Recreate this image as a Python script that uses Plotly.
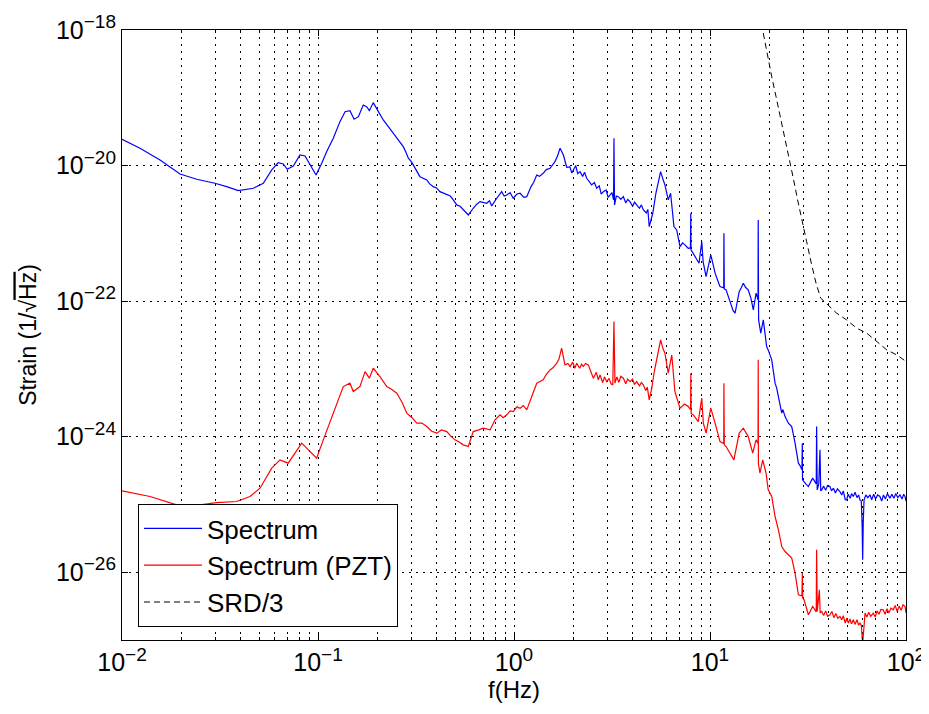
import numpy as np
import plotly.graph_objects as go

# Values, stored as (log10 f [Hz], log10 strain [1/sqrt(Hz)])
spectrum_log = [
    (-2.000, -19.612), (-1.908, -19.745), (-1.806, -19.917), (-1.704, -20.124), (-1.619, -20.202),
    (-1.526, -20.261), (-1.466, -20.311), (-1.407, -20.370), (-1.330, -20.335), (-1.279, -20.261),
    (-1.236, -20.065), (-1.203, -19.957), (-1.177, -19.976), (-1.157, -20.055), (-1.126, -20.006),
    (-1.092, -19.844), (-1.066, -19.858), (-1.032, -20.040), (-1.010, -20.139), (-0.981, -19.966),
    (-0.956, -19.795), (-0.922, -19.597), (-0.888, -19.352), (-0.862, -19.205), (-0.837, -19.190),
    (-0.816, -19.317), (-0.794, -19.279), (-0.769, -19.106), (-0.752, -19.131), (-0.738, -19.190),
    (-0.718, -19.072), (-0.692, -19.205), (-0.667, -19.327), (-0.641, -19.426), (-0.616, -19.524),
    (-0.590, -19.622), (-0.565, -19.721), (-0.552, -19.800), (-0.539, -19.892), (-0.522, -19.950),
    (-0.505, -20.040), (-0.480, -20.164), (-0.445, -20.212), (-0.430, -20.270), (-0.412, -20.311),
    (-0.395, -20.330), (-0.378, -20.385), (-0.343, -20.434), (-0.325, -20.450), (-0.310, -20.507),
    (-0.292, -20.581), (-0.275, -20.600), (-0.259, -20.655), (-0.233, -20.729), (-0.208, -20.630),
    (-0.190, -20.570), (-0.173, -20.532), (-0.139, -20.556), (-0.125, -20.520), (-0.114, -20.596),
    (-0.088, -20.482), (-0.063, -20.385), (-0.050, -20.450), (-0.037, -20.434), (-0.020, -20.400),
    (-0.004, -20.482), (0.015, -20.420), (0.031, -20.409), (0.050, -20.470), (0.065, -20.459),
    (0.087, -20.311), (0.100, -20.250), (0.116, -20.139), (0.130, -20.160), (0.149, -20.114),
    (0.165, -20.060), (0.184, -20.040), (0.195, -20.000), (0.209, -19.942), (0.222, -19.860),
    (0.235, -19.745), (0.252, -19.844), (0.269, -20.025), (0.285, -20.020), (0.295, -20.110),
    (0.303, -20.065), (0.315, -20.000), (0.325, -20.120), (0.337, -20.090), (0.350, -20.160),
    (0.360, -20.100), (0.371, -20.187), (0.385, -20.240), (0.396, -20.286), (0.410, -20.250),
    (0.422, -20.335), (0.435, -20.300), (0.445, -20.420), (0.456, -20.385), (0.470, -20.360),
    (0.480, -20.470), (0.490, -20.434), (0.500, -20.400), (0.508, -20.507), (0.510, -19.597),
    (0.513, -20.581), (0.522, -20.450), (0.532, -20.459), (0.545, -20.500), (0.558, -20.459),
    (0.570, -20.550), (0.580, -20.500), (0.592, -20.532), (0.605, -20.600), (0.615, -20.540),
    (0.626, -20.581), (0.640, -20.630), (0.650, -20.580), (0.660, -20.655), (0.675, -20.700),
    (0.683, -20.650), (0.690, -20.901), (0.700, -20.780), (0.708, -20.704), (0.724, -20.409),
    (0.736, -20.250), (0.748, -20.090), (0.760, -20.200), (0.770, -20.286), (0.787, -20.507),
    (0.799, -20.409), (0.816, -20.901), (0.830, -20.950), (0.847, -21.196), (0.860, -21.140),
    (0.872, -21.171), (0.889, -21.220), (0.900, -21.215), (0.902, -20.704), (0.903, -21.245),
    (0.915, -21.300), (0.929, -21.367), (0.944, -21.441), (0.958, -21.122), (0.965, -21.422),
    (0.980, -21.639), (0.992, -21.450), (1.004, -21.319), (1.015, -21.450), (1.026, -21.588),
    (1.040, -21.700), (1.051, -21.786), (1.070, -21.805), (1.071, -20.999), (1.073, -21.820),
    (1.082, -21.835), (1.095, -21.950), (1.106, -22.031), (1.118, -22.140), (1.128, -22.178),
    (1.140, -22.000), (1.149, -21.860), (1.160, -21.800), (1.170, -21.736), (1.182, -21.800),
    (1.195, -21.835), (1.208, -21.950), (1.221, -22.130), (1.235, -21.883), (1.245, -21.980),
    (1.246, -20.802), (1.248, -22.277), (1.259, -22.473), (1.272, -22.277), (1.289, -22.671),
    (1.297, -22.720), (1.315, -22.867), (1.332, -23.211), (1.340, -23.280), (1.349, -23.409),
    (1.366, -23.653), (1.372, -23.600), (1.383, -23.704), (1.400, -23.801), (1.417, -23.851),
    (1.434, -24.096), (1.451, -24.391), (1.460, -24.430), (1.469, -24.490), (1.471, -24.096),
    (1.472, -24.637), (1.490, -24.700), (1.502, -24.736), (1.515, -24.660), (1.524, -24.612),
    (1.534, -24.660), (1.542, -24.696), (1.544, -23.851), (1.547, -24.785), (1.555, -24.700),
    (1.561, -24.195), (1.565, -24.800), (1.570, -24.785), (1.580, -24.730), (1.590, -24.790),
    (1.600, -24.720), (1.612, -24.736), (1.620, -24.800), (1.630, -24.760), (1.640, -24.830),
    (1.650, -24.770), (1.663, -24.810), (1.672, -24.860), (1.680, -24.800), (1.690, -24.930),
    (1.697, -24.932), (1.705, -24.850), (1.715, -24.910), (1.722, -24.840), (1.731, -24.883),
    (1.740, -24.820), (1.750, -24.900), (1.758, -24.860), (1.765, -24.932), (1.772, -24.950),
    (1.776, -25.300), (1.779, -25.817), (1.782, -25.250), (1.786, -24.932), (1.795, -24.860),
    (1.805, -24.900), (1.816, -24.858), (1.825, -24.930), (1.835, -24.850), (1.845, -24.920),
    (1.855, -24.860), (1.867, -24.883), (1.876, -24.950), (1.885, -24.860), (1.895, -24.920),
    (1.905, -24.840), (1.918, -24.907), (1.928, -24.850), (1.938, -24.910), (1.948, -24.840),
    (1.958, -24.900), (1.969, -24.858), (1.980, -24.920), (1.988, -24.850), (1.995, -24.883),
    (2.000, -24.950),
]

spectrum_pzt_log = [
    (-2.000, -24.799), (-1.857, -24.883), (-1.721, -25.006), (-1.602, -25.006), (-1.517, -24.972),
    (-1.415, -24.957), (-1.347, -24.883), (-1.296, -24.760), (-1.236, -24.465), (-1.194, -24.342),
    (-1.152, -24.391), (-1.117, -24.243), (-1.083, -24.096), (-1.049, -24.195), (-1.007, -24.317),
    (-0.973, -24.047), (-0.922, -23.653), (-0.871, -23.261), (-0.837, -23.211), (-0.820, -23.335),
    (-0.786, -23.261), (-0.760, -23.040), (-0.738, -23.137), (-0.718, -22.990), (-0.684, -23.114),
    (-0.649, -23.261), (-0.625, -23.300), (-0.598, -23.358), (-0.570, -23.500), (-0.547, -23.653),
    (-0.520, -23.720), (-0.496, -23.801), (-0.470, -23.800), (-0.445, -23.851), (-0.420, -23.920),
    (-0.394, -23.948), (-0.370, -23.900), (-0.343, -23.925), (-0.320, -24.000), (-0.301, -24.047),
    (-0.280, -24.080), (-0.259, -24.121), (-0.233, -24.146), (-0.208, -23.925), (-0.180, -23.900),
    (-0.157, -23.875), (-0.122, -23.900), (-0.097, -23.752), (-0.071, -23.678), (-0.055, -23.720),
    (-0.037, -23.678), (-0.020, -23.620), (-0.004, -23.630), (0.015, -23.560), (0.031, -23.580),
    (0.048, -23.540), (0.065, -23.605), (0.090, -23.409), (0.116, -23.211), (0.130, -23.190),
    (0.149, -23.162), (0.165, -23.080), (0.184, -23.015), (0.200, -22.980), (0.218, -22.916),
    (0.230, -22.850), (0.243, -22.695), (0.260, -22.941), (0.275, -22.920), (0.286, -22.966),
    (0.300, -22.900), (0.310, -22.990), (0.320, -22.916), (0.335, -22.990), (0.345, -22.930),
    (0.354, -22.966), (0.365, -22.920), (0.379, -22.941), (0.392, -23.050), (0.405, -23.137),
    (0.420, -23.050), (0.430, -23.160), (0.439, -23.088), (0.452, -23.200), (0.462, -23.120),
    (0.473, -23.187), (0.485, -23.140), (0.495, -23.220), (0.504, -23.236), (0.510, -22.302),
    (0.515, -23.211), (0.525, -23.120), (0.535, -23.200), (0.545, -23.110), (0.558, -23.137),
    (0.570, -23.220), (0.580, -23.150), (0.592, -23.187), (0.605, -23.150), (0.615, -23.230),
    (0.626, -23.187), (0.640, -23.250), (0.650, -23.200), (0.660, -23.236), (0.672, -23.320),
    (0.680, -23.270), (0.690, -23.457), (0.703, -23.285), (0.715, -23.050), (0.728, -22.867),
    (0.748, -22.572), (0.760, -22.700), (0.770, -22.768), (0.787, -23.063), (0.805, -22.794),
    (0.821, -23.335), (0.835, -23.480), (0.847, -23.580), (0.870, -23.520), (0.889, -23.556),
    (0.901, -23.600), (0.902, -23.063), (0.904, -23.660), (0.915, -23.678), (0.940, -23.777),
    (0.958, -23.432), (0.966, -23.800), (0.980, -23.948), (1.004, -23.580), (1.026, -23.801),
    (1.040, -23.950), (1.051, -24.072), (1.070, -24.100), (1.071, -23.211), (1.073, -24.120),
    (1.082, -24.146), (1.102, -24.243), (1.122, -24.342), (1.149, -23.948), (1.170, -23.875),
    (1.195, -23.999), (1.218, -24.243), (1.235, -24.047), (1.245, -24.100), (1.246, -22.867),
    (1.247, -24.400), (1.255, -24.538), (1.269, -24.342), (1.286, -24.538), (1.297, -24.785),
    (1.315, -24.883), (1.332, -25.178), (1.349, -25.375), (1.366, -25.621), (1.383, -25.695),
    (1.400, -25.743), (1.417, -25.792), (1.434, -26.013), (1.451, -26.333), (1.469, -26.350),
    (1.471, -26.013), (1.473, -26.380), (1.480, -26.407), (1.502, -26.628), (1.524, -26.506),
    (1.542, -26.584), (1.544, -25.670), (1.547, -26.579), (1.558, -26.260), (1.562, -26.600),
    (1.570, -26.579), (1.580, -26.640), (1.590, -26.570), (1.600, -26.650), (1.612, -26.628),
    (1.622, -26.580), (1.632, -26.670), (1.642, -26.610), (1.652, -26.680), (1.663, -26.653),
    (1.672, -26.700), (1.680, -26.640), (1.690, -26.750), (1.698, -26.680), (1.706, -26.751),
    (1.714, -26.690), (1.722, -26.760), (1.731, -26.702), (1.740, -26.770), (1.750, -26.700),
    (1.758, -26.780), (1.765, -26.751), (1.772, -26.780), (1.776, -26.950), (1.779, -27.050),
    (1.783, -26.900), (1.791, -26.603), (1.800, -26.660), (1.810, -26.590), (1.820, -26.650),
    (1.833, -26.603), (1.843, -26.660), (1.852, -26.570), (1.862, -26.620), (1.872, -26.550),
    (1.884, -26.555), (1.893, -26.620), (1.903, -26.540), (1.913, -26.600), (1.923, -26.530),
    (1.935, -26.555), (1.945, -26.490), (1.955, -26.580), (1.965, -26.500), (1.975, -26.560),
    (1.985, -26.480), (1.995, -26.506), (2.000, -26.600),
]

srd3_log = [
    (1.262, -17.900), (1.269, -18.010), (1.297, -18.394), (1.315, -18.689), (1.337, -18.984),
    (1.361, -19.302), (1.384, -19.597), (1.403, -19.869), (1.425, -20.187), (1.447, -20.507),
    (1.469, -20.827), (1.493, -21.122), (1.517, -21.441), (1.541, -21.736), (1.565, -21.957),
    (1.595, -22.041), (1.646, -22.178), (1.697, -22.277), (1.749, -22.400), (1.800, -22.473),
    (1.851, -22.597), (1.902, -22.720), (1.953, -22.794), (1.995, -22.882), (2.000, -22.890),
]

series_names = ["Spectrum", "Spectrum (PZT)", "SRD/3"]
SUP = "<sup><span style='font-size:19px'>{}</span></sup>"
x_tick_vals = [1e-2, 1e-1, 1e0, 1e1, 1e2]
x_tick_exps = ["−2", "−1", "0", "1", "2"]
y_tick_vals = [1e-26, 1e-24, 1e-22, 1e-20, 1e-18]
y_tick_exps = ["−26", "−24", "−22", "−20", "−18"]
x_tick_text = ["10" + SUP.format(e) for e in x_tick_exps]
y_tick_text = ["10" + SUP.format(e) for e in y_tick_exps]
x_minor_vals = [m * 10.0 ** e for e in range(-2, 2) for m in range(2, 10)]

FONT = "Liberation Sans, Arial, Helvetica, sans-serif"
GRID_DASH = "2px,5px"

fig = go.Figure()
styles = [("#0000ff", "solid", 1.2), ("#ff0000", "solid", 1.2), ("#000000", "6px,4px", 1)]
for name, pts, (color, dash, w) in zip(series_names, [spectrum_log, spectrum_pzt_log, srd3_log], styles):
    lf = np.array([p[0] for p in pts])
    ls = np.array([p[1] for p in pts])
    fig.add_trace(go.Scatter(
        x=10.0 ** lf, y=10.0 ** ls, mode="lines", name=name,
        line=dict(color=color, width=w, dash=dash),
    ))

# The page body adds an 8px offset, so the figure is sized to fill the window from there.
fig.update_layout(
    width=921, height=706,
    margin=dict(l=114, r=23, t=22, b=74),
    paper_bgcolor="white", plot_bgcolor="white",
    font=dict(family=FONT, color="black", size=22),
    showlegend=True,
    legend=dict(
        x=0.0204, y=0.0213, xanchor="left", yanchor="bottom",
        bgcolor="white", bordercolor="black", borderwidth=1,
        font=dict(family=FONT, size=26, color="black"),
        itemwidth=58, tracegroupgap=0,
    ),
)

fig.update_xaxes(
    type="log", range=[-2, 2], automargin=False,
    tickmode="array", tickvals=x_tick_vals, ticktext=x_tick_text,
    tickfont=dict(family=FONT, size=25, color="black"),
    ticks="inside", ticklen=6, tickcolor="black", tickwidth=1,
    showline=True, linecolor="black", linewidth=1, mirror="ticks",
    showgrid=True, gridcolor="black", gridwidth=1, griddash=GRID_DASH,
    zeroline=False,
    minor=dict(tickvals=x_minor_vals, ticks="inside", ticklen=3, tickcolor="black",
               showgrid=True, gridcolor="black", gridwidth=1, griddash=GRID_DASH),
    title=dict(text="f(Hz)", font=dict(family=FONT, size=24, color="black"), standoff=3),
)
fig.update_yaxes(
    type="log", range=[-27, -18], automargin=False,
    tickmode="array", tickvals=y_tick_vals, ticktext=y_tick_text,
    tickfont=dict(family=FONT, size=25, color="black"),
    ticks="inside", ticklen=6, tickcolor="black", tickwidth=1,
    showline=True, linecolor="black", linewidth=1, mirror="ticks",
    showgrid=True, gridcolor="black", gridwidth=1, griddash=GRID_DASH,
    zeroline=False,
    title=dict(text="Strain (1/√<span style='text-decoration:overline'>Hz</span>)",
               font=dict(family=FONT, size=23, color="black"), standoff=12),
)

fig.write_html("out.html")
